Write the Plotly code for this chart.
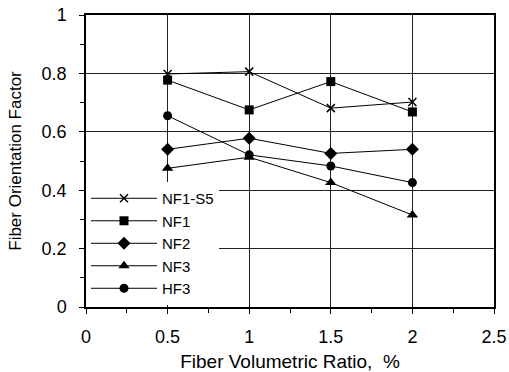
import plotly.graph_objects as go

x_vals = [0.5, 1.0, 1.5, 2.0]
series_names = ["NF1-S5", "NF1", "NF2", "NF3", "HF3"]
nf1_s5 = [0.798, 0.806, 0.681, 0.702]
nf1 = [0.777, 0.675, 0.772, 0.668]
nf2 = [0.540, 0.578, 0.526, 0.540]
nf3 = [0.475, 0.513, 0.426, 0.315]
hf3 = [0.655, 0.521, 0.483, 0.426]
series_values = [nf1_s5, nf1, nf2, nf3, hf3]
symbols = ["x-thin", "square", "diamond", "triangle-up", "circle"]
sizes = [8, 9, 10, 10, 9]

x_ticks = [0, 0.5, 1, 1.5, 2, 2.5]
y_ticks = [0, 0.2, 0.4, 0.6, 0.8, 1]

fig = go.Figure()
for name, vals, sym, sz in zip(series_names, series_values, symbols, sizes):
    fig.add_trace(go.Scatter(
        x=x_vals, y=vals, name=name, mode="lines+markers",
        line=dict(color="black", width=1),
        marker=dict(symbol=sym, size=sz, color="black",
                    line=dict(color="black", width=1.5 if sym == "x-thin" else 0)),
    ))

font = "Liberation Sans, Arial, sans-serif"
fig.update_layout(
    width=509, height=372,
    margin=dict(l=86, r=15, t=15, b=65, autoexpand=False),
    paper_bgcolor="white", plot_bgcolor="white",
    font=dict(family=font, size=18, color="black"),
    showlegend=True,
    legend=dict(x=0.0, y=0.428, xanchor="left", yanchor="top",
                bgcolor="white", borderwidth=0, font=dict(size=15, color="black"),
                itemwidth=66, tracegroupgap=0),
    xaxis=dict(range=[0, 2.5], tickvals=x_ticks, ticktext=[str(t) for t in x_ticks],
               automargin=False, ticklabeloverflow="allow", ticklabelstandoff=8,
               showgrid=True, gridcolor="#222", gridwidth=1,
               showline=True, linecolor="black", linewidth=1.5, mirror=True,
               ticks="outside", ticklen=5, tickcolor="black", zeroline=False,
               minor=dict(dtick=0.25, ticks="outside", ticklen=4, tickcolor="black", showgrid=False),
               title=dict(text="Fiber Volumetric Ratio,  %", font=dict(size=19, color="black"), standoff=10)),
    yaxis=dict(range=[0, 1], tickvals=y_ticks, ticktext=["0", "0.2", "0.4", "0.6", "0.8", "1"],
               automargin=False, ticklabeloverflow="allow", ticklabelstandoff=9,
               showgrid=True, gridcolor="#222", gridwidth=1,
               showline=True, linecolor="black", linewidth=1.5, mirror=True,
               ticks="outside", ticklen=5, tickcolor="black", zeroline=False,
               minor=dict(dtick=0.1, ticks="outside", ticklen=4, tickcolor="black", showgrid=False),
               title=dict(text="Fiber Orientation Factor", font=dict(size=17, color="black"), standoff=16)),
)

fig.write_html("out.html", config={"displayModeBar": False},
               post_script="document.body.style.margin='0';document.body.style.overflow='hidden';")
